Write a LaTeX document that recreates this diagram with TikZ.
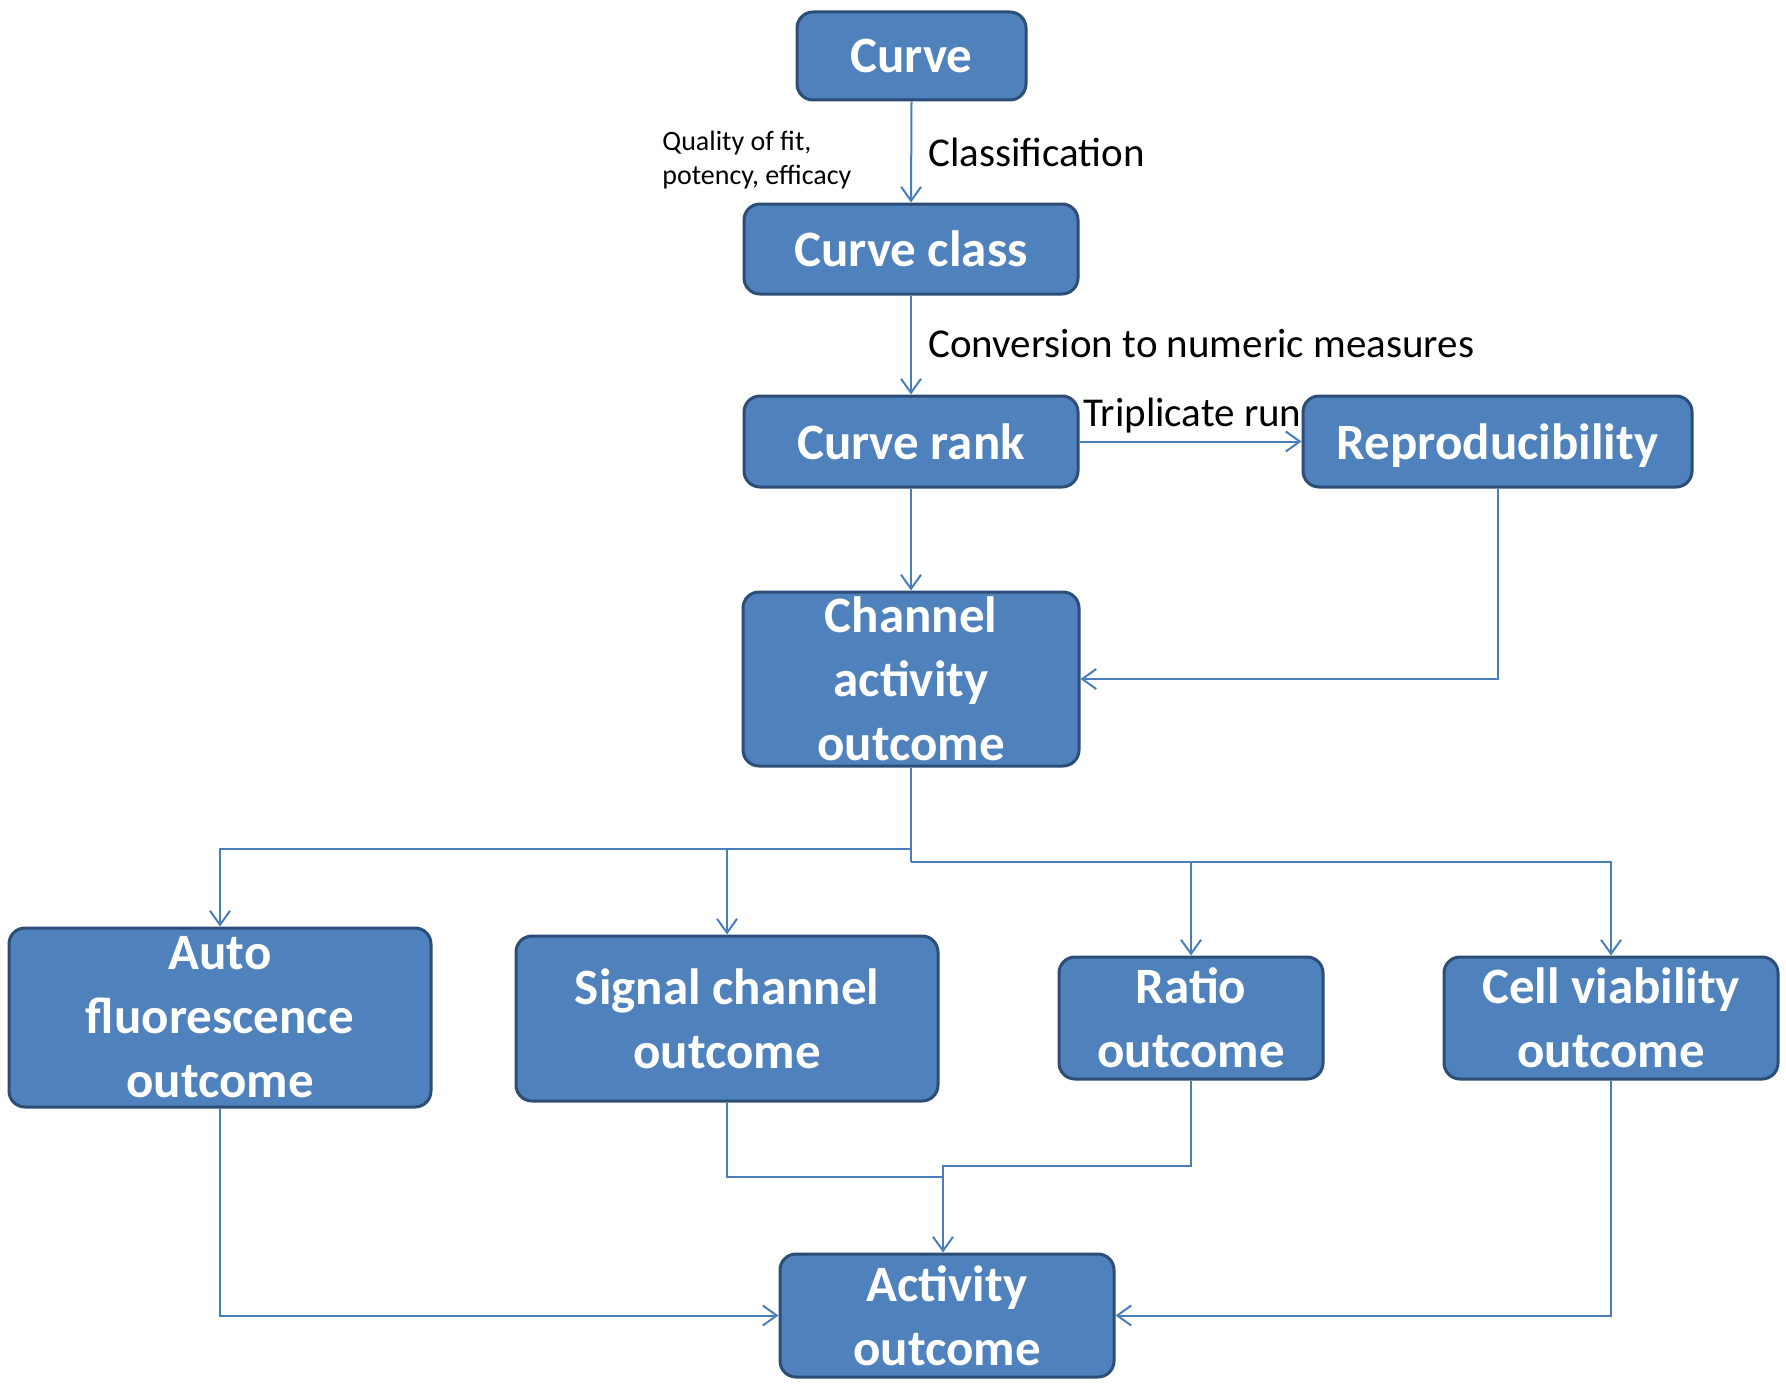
\documentclass[tikz,border=0pt]{standalone}
\usepackage{fontspec}
\setmainfont{Carlito}
\usetikzlibrary{arrows.meta}
\definecolor{boxfill}{HTML}{4F81BD}
\definecolor{boxline}{HTML}{2C4D75}
\definecolor{conn}{HTML}{4A7EBB}
\begin{document}
\begin{tikzpicture}[x=0.5pt,y=-0.5pt,
 box/.style={draw=boxline, line width=1.5pt, fill=boxfill, rounded corners=8pt, text=white,
   font=\fontsize{25.5}{32}\selectfont\bfseries, align=center, inner sep=0pt},
 one/.style={text depth=0pt},
 arr/.style={draw=conn, line width=1pt, -{Straight Barb[length=7pt,width=10pt,line width=1pt]}},
 ln/.style={draw=conn, line width=1pt},
 lab/.style={font=\fontsize{20.5}{24}\selectfont, text=black, inner sep=0pt},
 small/.style={font=\fontsize{14}{17}\selectfont, text=black, inner sep=0pt, align=left}]
\fill[white] (0,0) rectangle (1786,1386);
\useasboundingbox (0,0) rectangle (1786,1386);

\node[box, one, minimum width=114.5pt, minimum height=44pt] (curve) at (911.5,56) {Curve};
\node[box, one, minimum width=167pt, minimum height=45pt] (cclass) at (911,249) {Curve class};
\node[box, one, minimum width=167pt, minimum height=45.5pt] (crank) at (911,441.5) {Curve rank};
\node[box, one, minimum width=194.5pt, minimum height=45.5pt] (repro) at (1497.5,441.5) {Reproducibility};
\node[box, minimum width=168pt, minimum height=87pt] (channel) at (911,679) {Channel\\activity\\outcome};
\node[box, minimum width=211pt, minimum height=89.5pt] (auto) at (220,1017.5) {Auto\\fluorescence\\outcome};
\node[box, minimum width=211pt, minimum height=82.5pt] (signal) at (727,1018.5) {Signal channel\\outcome};
\node[box, minimum width=132pt, minimum height=61pt] (ratio) at (1191,1018) {Ratio\\outcome};
\node[box, minimum width=167pt, minimum height=61pt] (cell) at (1611,1018) {Cell viability\\outcome};
\node[box, minimum width=167pt, minimum height=61.5pt] (activity) at (947,1315.5) {Activity\\outcome};

\node[small, anchor=west] (qual) at (662,160) {Quality of fit,\\potency, efficacy};
\node[lab, anchor=west] (classif) at (928,152) {Classification};
\node[lab, anchor=west] (conv) at (928,344) {Conversion to numeric measures};
\node[lab, anchor=base west] (trip) at (1083,426) {Triplicate run};

\draw[arr] (curve.south) -- (cclass.north);
\draw[arr] (cclass.south) -- (crank.north);
\draw[arr] (crank.east) -- (repro.west);
\draw[arr] (crank.south) -- (channel.north);
\draw[arr] (repro.south) |- (channel.east);

\coordinate (bL) at (911,849);
\coordinate (bR) at (911,862);
\draw[ln] (channel.south) -- (bR);
\draw[arr] (bL) -| (auto.north);
\draw[arr] (bL) -| (signal.north);
\draw[arr] (bR) -| (ratio.north);
\draw[arr] (bR) -| (cell.north);

\coordinate (js) at (943,1177);
\coordinate (jn) at (943,1166);
\draw[ln] (signal.south) |- (js);
\draw[arr] (ratio.south) |- (jn) -- (jn |- activity.north);
\draw[arr] (auto.south) |- (activity.west);
\draw[arr] (cell.south) |- (activity.east);
\end{tikzpicture}
\end{document}
